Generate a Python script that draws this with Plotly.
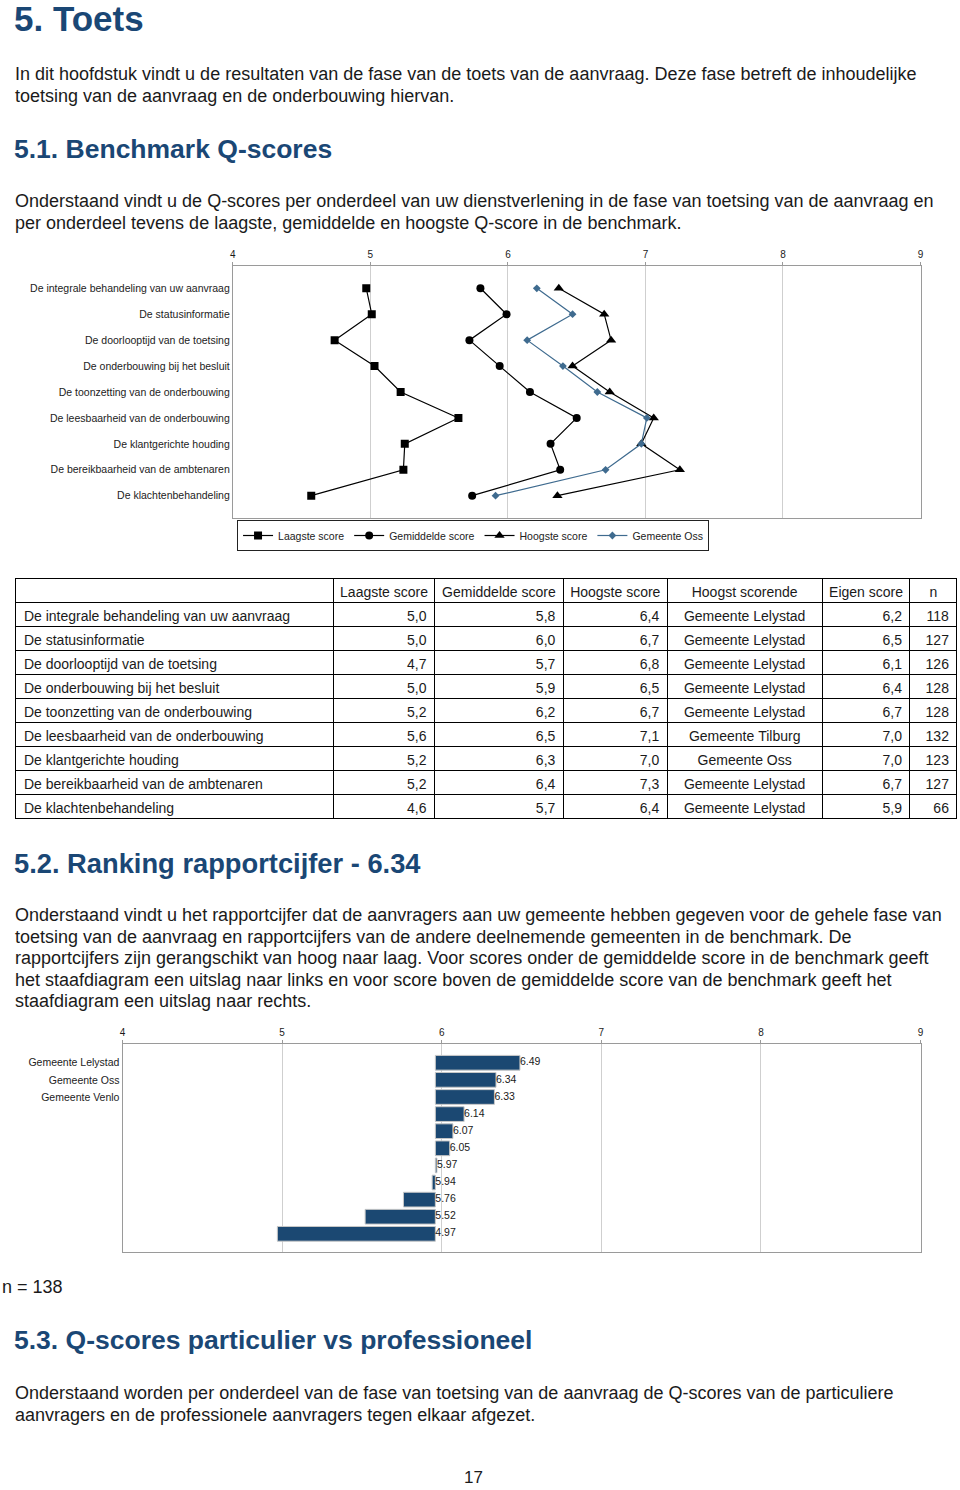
import plotly.graph_objects as go

W, H = 960, 1490
def px(x): return x / W
def py(y): return 1 - y / H

# ---------------- data ----------------
categories = [
    "De integrale behandeling van uw aanvraag",
    "De statusinformatie",
    "De doorlooptijd van de toetsing",
    "De onderbouwing bij het besluit",
    "De toonzetting van de onderbouwing",
    "De leesbaarheid van de onderbouwing",
    "De klantgerichte houding",
    "De bereikbaarheid van de ambtenaren",
    "De klachtenbehandeling",
]
laagste = [4.97, 5.01, 4.74, 5.03, 5.22, 5.64, 5.25, 5.24, 4.57]
gemiddelde = [5.80, 5.99, 5.72, 5.94, 6.16, 6.50, 6.31, 6.38, 5.74]
hoogste = [6.37, 6.70, 6.75, 6.47, 6.74, 7.06, 6.97, 7.25, 6.36]
oss = [6.21, 6.47, 6.14, 6.40, 6.65, 7.01, 6.97, 6.71, 5.91]
series_names = ["Laagste score", "Gemiddelde score", "Hoogste score", "Gemeente Oss"]

table_header = ["", "Laagste score", "Gemiddelde score", "Hoogste score",
                "Hoogst scorende", "Eigen score", "n"]
table_laagste = ["5,0", "5,0", "4,7", "5,0", "5,2", "5,6", "5,2", "5,2", "4,6"]
table_gem = ["5,8", "6,0", "5,7", "5,9", "6,2", "6,5", "6,3", "6,4", "5,7"]
table_hoog = ["6,4", "6,7", "6,8", "6,5", "6,7", "7,1", "7,0", "7,3", "6,4"]
table_top = ["Gemeente Lelystad", "Gemeente Lelystad", "Gemeente Lelystad",
             "Gemeente Lelystad", "Gemeente Lelystad", "Gemeente Tilburg",
             "Gemeente Oss", "Gemeente Lelystad", "Gemeente Lelystad"]
table_eigen = ["6,2", "6,5", "6,1", "6,4", "6,7", "7,0", "7,0", "6,7", "5,9"]
table_n = ["118", "127", "126", "128", "128", "132", "123", "127", "66"]

ranking_names = ["Gemeente Lelystad", "Gemeente Oss", "Gemeente Venlo",
                 "", "", "", "", "", "", "", ""]
ranking_scores = [6.49, 6.34, 6.33, 6.14, 6.07, 6.05, 5.97, 5.94, 5.76, 5.52, 4.97]
benchmark_mean = 5.96

axis_ticks = [4, 5, 6, 7, 8, 9]

# ---------------- styles ----------------
BLUE_HEAD = "#1A4775"
BAR_BLUE = "#1B4872"
OSS_BLUE = "#3F6B8F"
TEXT = "#1a1a1a"
BODY_FONT = "Liberation Sans"
CHART_FONT = "Liberation Sans"
NBSP = "\u00a0"

fig = go.Figure()

# ---------------- chart 1: benchmark lines ----------------
styles = [
    dict(symbol="square", size=8, color="black", line="black"),
    dict(symbol="circle", size=8, color="black", line="black"),
    dict(symbol="triangle-up", size=9, color="black", line="black"),
    dict(symbol="diamond", size=6, color=OSS_BLUE, line=OSS_BLUE),
]
for name, vals, st in zip(series_names, [laagste, gemiddelde, hoogste, oss], styles):
    fig.add_trace(go.Scatter(
        x=vals, y=categories, name=name, mode="lines+markers",
        line=dict(color=st["line"], width=1.2),
        marker=dict(symbol=st["symbol"], size=st["size"], color=st["color"]),
        xaxis="x", yaxis="y", hoverinfo="x+y+name",
    ))

# ---------------- chart 2: ranking bars ----------------
rank_idx = list(range(len(ranking_scores)))
fig.add_trace(go.Bar(
    x=[v - benchmark_mean for v in ranking_scores], y=rank_idx,
    base=benchmark_mean, orientation="h", width=0.86,
    marker=dict(color=BAR_BLUE, line=dict(color="#c8c8c8", width=1)),
    xaxis="x2", yaxis="y2", showlegend=False,
))
fig.add_trace(go.Scatter(
    x=[max(v, benchmark_mean) for v in ranking_scores], y=rank_idx,
    mode="text", text=[f"{v:.2f}" for v in ranking_scores],
    textposition="middle right",
    textfont=dict(family=CHART_FONT, size=10.5, color=TEXT),
    xaxis="x2", yaxis="y2", showlegend=False, hoverinfo="skip",
))

# ---------------- table ----------------
fig.add_trace(go.Table(
    domain=dict(x=[px(13), 1.0], y=[py(824), py(578)]),
    columnwidth=[318, 101, 129, 104, 155, 88, 47],
    header=dict(values=[h.replace(" ", NBSP) for h in table_header],
                align="center", height=24,
                line=dict(color="black", width=1), fill=dict(color="white"),
                font=dict(family=BODY_FONT, size=14, color=TEXT)),
    cells=dict(values=[categories, table_laagste, table_gem, table_hoog,
                       [t.replace(" ", NBSP) for t in table_top], table_eigen, table_n],
               align=["left", "right", "right", "right", "center", "right", "right"],
               height=24, line=dict(color="black", width=1),
               fill=dict(color="white"),
               font=dict(family=BODY_FONT, size=14, color=TEXT)),
))

axis_common = dict(
    range=[4, 9], tickvals=axis_ticks, side="top", showgrid=True,
    gridcolor="#cfcfcf", gridwidth=1, showline=True, linecolor="#9a9a9a",
    linewidth=1, mirror=True, ticks="outside", ticklen=3, tickcolor="#9a9a9a",
    tickfont=dict(family=CHART_FONT, size=10, color=TEXT), zeroline=False,
)

fig.update_layout(
    width=W, height=H, margin=dict(l=0, r=0, t=0, b=0),
    paper_bgcolor="white", plot_bgcolor="white",
    xaxis=dict(domain=[px(231.3), px(923.3)], anchor="y", **axis_common),
    yaxis=dict(domain=[py(518), py(266)], anchor="x", type="category",
               categoryorder="array", categoryarray=categories,
               range=[8.86, -0.86], showgrid=False, showline=True,
               linecolor="#9a9a9a", mirror=True, ticks="",
               tickfont=dict(family=CHART_FONT, size=10.5, color="#222"),
               zeroline=False),
    xaxis2=dict(domain=[px(120.3), px(923.3)], anchor="y2", **axis_common),
    yaxis2=dict(domain=[py(1252.3), py(1044.3)], anchor="x2",
                range=[11.08, -1.08], tickvals=[i for i, n in enumerate(ranking_names) if n],
                ticktext=[n for n in ranking_names if n], showgrid=False,
                showline=True, linecolor="#9a9a9a", mirror=True, ticks="",
                tickfont=dict(family=CHART_FONT, size=10.5, color="#222"),
                zeroline=False),
    legend=dict(orientation="h", x=px(473), xanchor="center", y=py(520),
                yanchor="top", bordercolor="#222", borderwidth=1,
                font=dict(family=CHART_FONT, size=10.5, color="#222"),
                itemwidth=30, bgcolor="white", traceorder="normal"),
    showlegend=True,
    bargap=0.1,
)

# ---------------- page text ----------------
def add_text(text, x, y, size, bold=False, color=TEXT, anchor="left", family=BODY_FONT):
    fig.add_annotation(
        text=f"<b>{text}</b>" if bold else text, x=px(x), y=py(y),
        xref="paper", yref="paper", xanchor=anchor, yanchor="middle",
        showarrow=False, font=dict(family=family, size=size, color=color),
    )

add_text("5. Toets", 9, 19, 35, bold=True, color=BLUE_HEAD)
body1 = ["In dit hoofdstuk vindt u de resultaten van de fase van de toets van de aanvraag. Deze fase betreft de inhoudelijke",
         "toetsing van de aanvraag en de onderbouwing hiervan."]
for i, line in enumerate(body1):
    add_text(line, 10, 74 + 21.7 * i, 18)
add_text("5.1. Benchmark Q-scores", 9, 149, 26.5, bold=True, color=BLUE_HEAD)
body2 = ["Onderstaand vindt u de Q-scores per onderdeel van uw dienstverlening in de fase van toetsing van de aanvraag en",
         "per onderdeel tevens de laagste, gemiddelde en hoogste Q-score in de benchmark."]
for i, line in enumerate(body2):
    add_text(line, 10, 201 + 21.7 * i, 18)
add_text("5.2. Ranking rapportcijfer - 6.34", 9, 863, 27.3, bold=True, color=BLUE_HEAD)
body3 = ["Onderstaand vindt u het rapportcijfer dat de aanvragers aan uw gemeente hebben gegeven voor de gehele fase van",
         "toetsing van de aanvraag en rapportcijfers van de andere deelnemende gemeenten in de benchmark. De",
         "rapportcijfers zijn gerangschikt van hoog naar laag. Voor scores onder de gemiddelde score in de benchmark geeft",
         "het staafdiagram een uitslag naar links en voor score boven de gemiddelde score van de benchmark geeft het",
         "staafdiagram een uitslag naar rechts."]
for i, line in enumerate(body3):
    add_text(line, 10, 915 + 21.6 * i, 18)
add_text("n = 138", -3, 1287, 18)
add_text("5.3. Q-scores particulier vs professioneel", 9, 1340, 26.5, bold=True, color=BLUE_HEAD)
body4 = ["Onderstaand worden per onderdeel van de fase van toetsing van de aanvraag de Q-scores van de particuliere",
         "aanvragers en de professionele aanvragers tegen elkaar afgezet."]
for i, line in enumerate(body4):
    add_text(line, 10, 1393 + 21.5 * i, 18)
add_text("17", 473, 1477, 17, anchor="center")

fig.write_html(
    "out.html",
    config={"displayModeBar": False},
    post_script="document.body.style.margin='0px';document.body.style.overflow='hidden';",
)
